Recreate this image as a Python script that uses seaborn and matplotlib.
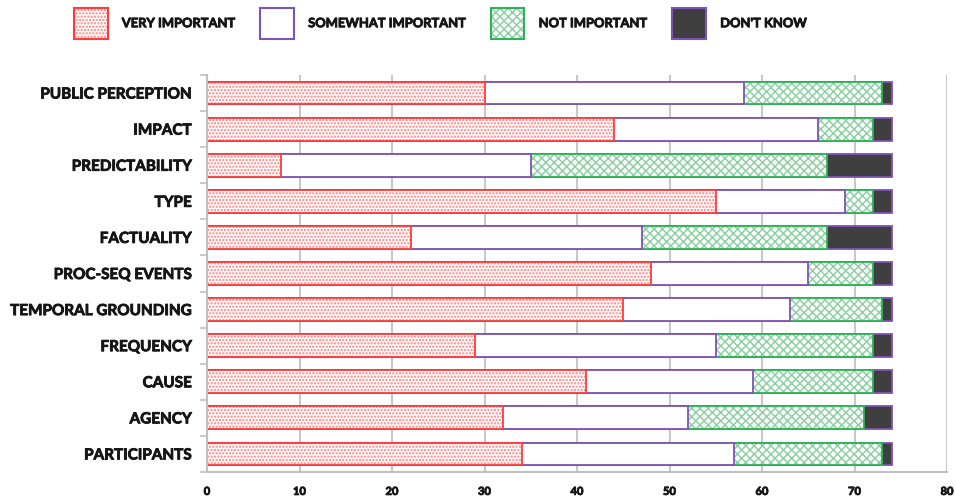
import matplotlib
matplotlib.use("Agg")
import matplotlib.pyplot as plt
import matplotlib.patheffects as pe
import seaborn as sns
import numpy as np
import pandas as pd
from matplotlib.patches import Patch
from matplotlib.colors import to_rgba
from matplotlib.ticker import FixedLocator

categories = ["PUBLIC PERCEPTION", "IMPACT", "PREDICTABILITY", "TYPE", "FACTUALITY",
              "PROC-SEQ EVENTS", "TEMPORAL GROUNDING", "FREQUENCY", "CAUSE", "AGENCY",
              "PARTICIPANTS"]
very_important = [30, 44, 8, 55, 22, 48, 45, 29, 41, 32, 34]
somewhat_important = [28, 22, 27, 14, 25, 17, 18, 26, 18, 20, 23]
not_important = [15, 6, 32, 3, 20, 7, 10, 17, 13, 19, 16]
dont_know = [1, 2, 7, 2, 7, 2, 1, 2, 2, 3, 1]
series_names = ["VERY IMPORTANT", "SOMEWHAT IMPORTANT", "NOT IMPORTANT", "DON'T KNOW"]
x_ticks = [0, 10, 20, 30, 40, 50, 60, 70, 80]

sns.set_style("white")
plt.rcParams["font.family"] = ["Lato", "DejaVu Sans"]
plt.rcParams["hatch.linewidth"] = 1.1

RED = "#ff3b3b"
RED_H = "#ff7f7f"
PURPLE = "#7f52b5"
GREEN = "#2bb457"
GREEN_H = "#8fd1a4"
DARK = "#3f3f3f"
TXT = "#151515"
WEIGHT = "bold"
BOLDER = [pe.withStroke(linewidth=0.6, foreground=TXT)]

df = pd.DataFrame({"cat": categories, "vi": very_important, "si": somewhat_important,
                   "ni": not_important, "dk": dont_know})
df["c_vi"] = df["vi"]
df["c_si"] = df["c_vi"] + df["si"]
df["c_ni"] = df["c_si"] + df["ni"]
df["c_dk"] = df["c_ni"] + df["dk"]

fig = plt.figure(figsize=(9.56, 4.96), dpi=100)
ax = fig.add_axes([207 / 956, 1 - 472 / 496, (947 - 207) / 956, (472 - 75) / 496])

layers = [
    ("c_dk", DARK, PURPLE, None, None),
    ("c_ni", "white", GREEN, "xxxx", GREEN_H),
    ("c_si", "white", PURPLE, None, None),
    ("c_vi", "white", RED, ".....", RED_H),
]
for col, face, edge, hatch, hcol in layers:
    n0 = len(ax.patches)
    sns.barplot(data=df, x=col, y="cat", orient="h", color=face, saturation=1,
                width=0.63, errorbar=None, linewidth=1.3, edgecolor=edge, ax=ax)
    for p in ax.patches[n0:]:
        p.set_edgecolor(edge)
        p.set_facecolor(face)
        if hatch:
            p.set_hatch(hatch)
            p._hatch_color = to_rgba(hcol)
            p.stale = True

ax.set_xlim(0, 80)
ax.set_ylim(10.5, -0.5)
ax.set_xticks(x_ticks)
ax.set_xticklabels([str(t) for t in x_ticks])
ax.set_xlabel("")
ax.set_ylabel("")
ax.set_axisbelow(True)
ax.grid(axis="x", color="#c8c8c8", linewidth=1.5)
ax.grid(axis="y", visible=False)
for s in ["top", "right"]:
    ax.spines[s].set_visible(False)
for s in ["left", "bottom"]:
    ax.spines[s].set_color("#c0c0c0")
    ax.spines[s].set_linewidth(1.5)

ax.yaxis.set_minor_locator(FixedLocator(np.arange(-0.5, 11, 1.0)))
ax.tick_params(axis="y", which="minor", left=True, length=5, width=1.2, color="#c0c0c0")
ax.tick_params(axis="y", which="major", left=False, length=0, pad=11)
ax.tick_params(axis="x", which="major", bottom=False, length=0, pad=10)
for lab in ax.get_yticklabels():
    lab.set_fontweight(WEIGHT)
    lab.set_fontsize(11)
    lab.set_color(TXT)
    lab.set_path_effects(BOLDER)
for lab in ax.get_xticklabels():
    lab.set_fontweight(WEIGHT)
    lab.set_fontsize(8)
    lab.set_color(TXT)
    lab.set_path_effects(BOLDER)

handles = [
    Patch(facecolor="white", edgecolor=RED, hatch=".....", linewidth=1.5),
    Patch(facecolor="white", edgecolor=PURPLE, linewidth=1.5),
    Patch(facecolor="white", edgecolor=GREEN, hatch="xxxx", linewidth=1.5),
    Patch(facecolor=DARK, edgecolor=PURPLE, linewidth=1.5),
]
handles[0]._hatch_color = to_rgba(RED_H)
handles[2]._hatch_color = to_rgba(GREEN_H)
leg = fig.legend(handles, series_names, loc="center left", bbox_to_anchor=(74 / 956, 1 - 23.5 / 496),
                 ncol=4, frameon=False, prop={"weight": WEIGHT, "size": 9.3},
                 handlelength=2.6, handleheight=3.2, handletextpad=1.1, columnspacing=2.0,
                 borderaxespad=0, borderpad=0)
for t in leg.get_texts():
    t.set_color(TXT)
    t.set_path_effects(BOLDER)

fig.savefig("out.png", dpi=100)
